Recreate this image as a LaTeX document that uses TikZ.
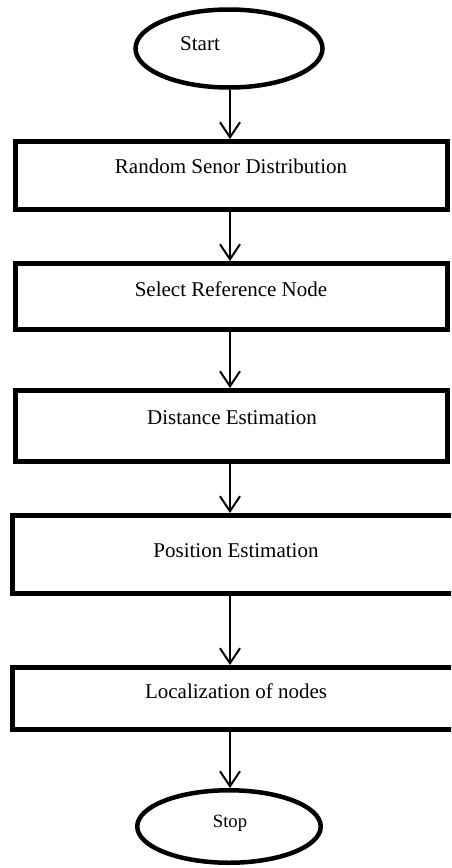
\documentclass[tikz,border=0pt]{standalone}
\usepackage{fontspec}
\setmainfont{Liberation Serif}
\usetikzlibrary{arrows.meta,shapes.geometric}
\begin{document}
\begin{tikzpicture}[x=1pt,y=-1pt,
  stepbox/.style={draw=black,line width=5pt,rectangle,inner sep=0pt},
  terminal/.style={draw=black,line width=4.5pt,ellipse,inner sep=0pt},
  label text/.style={anchor=base,inner sep=0pt,font=\fontsize{21}{24}\selectfont},
  flow/.style={line width=2pt,-{Straight Barb[length=15pt,width=20pt,line width=2pt]}}]
\useasboundingbox (0,0) rectangle (451,868);
\clip (0,0) rectangle (451,868);

% terminals
\node[terminal,minimum width=187pt,minimum height=78pt] (start) at (229,48.5) {};
\node[label text] (starttxt) at (200,50) {Start};
\node[terminal,minimum width=183.5pt,minimum height=72.5pt] (stop) at (229,826.5) {};
\node[label text,font=\fontsize{18.7}{22}\selectfont] (stoptxt) at (230,827) {Stop};

% process steps
\node[stepbox,minimum width=432pt,minimum height=68pt] (b1) at (231.5,175.5) {};
\node[label text] (t1) at (231,173) {Random Senor Distribution};
\node[stepbox,minimum width=432pt,minimum height=66pt] (b2) at (231.5,296.5) {};
\node[label text] (t2) at (231,296) {Select Reference Node};
\node[stepbox,minimum width=432pt,minimum height=71pt] (b3) at (231.5,426) {};
\node[label text] (t3) at (232,424) {Distance Estimation};
\node[stepbox,minimum width=455pt,minimum height=78pt] (b4) at (240,554.5) {};
\node[label text] (t4) at (236,557) {Position Estimation};
\node[stepbox,minimum width=455pt,minimum height=62pt] (b5) at (240,698.5) {};
\node[label text] (t5) at (236,698) {Localization of nodes};

% connectors
\coordinate (axis) at (230,0);
\draw[flow] (axis |- start.south) -- (axis |- b1.north);
\draw[flow] (axis |- b1.south) -- (axis |- b2.north);
\draw[flow] (axis |- b2.south) -- (axis |- b3.north);
\draw[flow] (axis |- b3.south) -- (axis |- b4.north);
\draw[flow] (axis |- b4.south) -- (axis |- b5.north);
\draw[flow] (axis |- b5.south) -- (axis |- stop.north);
\end{tikzpicture}
\end{document}
